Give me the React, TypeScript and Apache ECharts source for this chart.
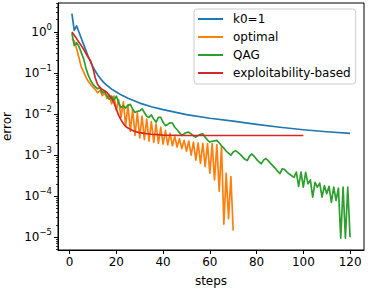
import React, { useEffect, useRef } from "react";
import * as echarts from "echarts";

const FONT = "DejaVu Sans";

const stepTicks = [0, 20, 40, 60, 80, 100, 120];
const decadeTicks = [1e-5, 1e-4, 1e-3, 1e-2, 1e-1, 1];

const k0Steps = [1, 2, 3, 4, 5, 6, 7, 8, 9, 10, 11, 12, 13, 14, 15, 16, 18, 20, 22, 25, 30, 35, 40, 45, 50, 60, 70, 80, 90, 100, 110, 120];
const k0Errors = [2.82, 1.1, 1.41, 1.0, 0.708, 0.501, 0.355, 0.251, 0.186, 0.141, 0.112, 0.0912, 0.0759, 0.0646, 0.0562, 0.0501, 0.0407, 0.0347, 0.0295, 0.0245, 0.0186, 0.0151, 0.0129, 0.0112, 0.00977, 0.00794, 0.00676, 0.00562, 0.00479, 0.00417, 0.00372, 0.00339];

const optimalErrors = [
  0.692, 0.603, 0.398, 0.24, 0.141, 0.107, 0.0794, 0.0631, 0.0525, 0.0457,
  0.0398, 0.0331, 0.038, 0.0282, 0.0331, 0.024, 0.0302, 0.0178, 0.0275, 0.0126,
  0.0224, 0.00832, 0.02, 0.00525, 0.0166, 0.0038, 0.0132, 0.00302, 0.0107, 0.00263,
  0.00891, 0.0024, 0.00759, 0.00219, 0.00661, 0.00204, 0.00575, 0.00195, 0.00479, 0.00186,
  0.00398, 0.00178, 0.00339, 0.0017, 0.00288, 0.00158, 0.00251, 0.00145, 0.00229, 0.00126,
  0.00219, 0.001, 0.00209, 0.000759, 0.002, 0.000631, 0.00195, 0.000525, 0.00191, 0.000363,
  0.00191, 0.000251, 0.00182, 0.000132, 0.00166, 0.0000209, 0.000363, 0.0000282, 0.000302, 0.0000145,
];

const qagErrors = [
  0.933, 0.468, 0.55, 0.447, 0.316, 0.224, 0.132, 0.0891, 0.0661, 0.0537,
  0.0457, 0.0417, 0.0447, 0.0331, 0.0355, 0.0275, 0.0229, 0.0275, 0.0219, 0.0275,
  0.0191, 0.0145, 0.0158, 0.0141, 0.0166, 0.0174, 0.0132, 0.011, 0.0117, 0.012,
  0.0135, 0.011, 0.00891, 0.00832, 0.00955, 0.00759, 0.00631, 0.00832, 0.00832, 0.00631,
  0.00525, 0.00562, 0.00617, 0.00603, 0.00479, 0.00417, 0.00355, 0.00302, 0.00331, 0.00355,
  0.00363, 0.00331, 0.00295, 0.00275, 0.00302, 0.00324, 0.00331, 0.00275, 0.00234, 0.00209,
  0.00219, 0.00224, 0.00229, 0.002, 0.0017, 0.00148, 0.00126, 0.00112, 0.001, 0.0012,
  0.00129, 0.00117, 0.00105, 0.000912, 0.000794, 0.000741, 0.000955, 0.00107, 0.000933, 0.000794,
  0.000692, 0.000617, 0.000759, 0.000832, 0.000724, 0.000631, 0.00055, 0.000479, 0.000407, 0.000355,
  0.000468, 0.000447, 0.000389, 0.000347, 0.000316, 0.000288, 0.000389, 0.000174, 0.000389, 0.000166,
  0.00038, 0.0002, 0.000251, 0.0000955, 0.000219, 0.000166, 0.000209, 0.0000955, 0.000182, 0.000115,
  0.000174, 0.0000708, 0.000166, 0.0000794, 0.000158, 0.00000955, 0.000166, 0.00000955, 0.000166, 0.00001,
];

const exploitSteps = [1, 2, 3, 4, 5, 6, 7, 8, 9, 10, 11, 12, 13, 14, 15, 16, 17, 18, 19, 20, 21, 22, 23, 24, 25, 26, 27, 28, 29, 30, 32, 35, 40, 50, 60, 70, 80, 90, 100];
const exploitErrors = [1.0, 0.832, 0.692, 0.562, 0.468, 0.38, 0.302, 0.24, 0.2, 0.132, 0.0759, 0.0525, 0.0447, 0.0398, 0.0372, 0.0339, 0.0282, 0.024, 0.0191, 0.0132, 0.00933, 0.00724, 0.00589, 0.00501, 0.00457, 0.00427, 0.00398, 0.0038, 0.00363, 0.00355, 0.00339, 0.00324, 0.00309, 0.00302, 0.00302, 0.00302, 0.00302, 0.00302, 0.00302];

const Y_MIN = 4.9e-6;
const Y_MAX = 5.1;

function minorTicks(): number[] {
  const out: number[] = [];
  for (let e = -6; e <= 0; e++) {
    for (let d = 2; d <= 9; d++) {
      const v = d * Math.pow(10, e);
      if (v >= Y_MIN && v <= Y_MAX) out.push(v);
    }
  }
  return out;
}

export default function App() {
  const ref = useRef<HTMLDivElement>(null);
  useEffect(() => {
    if (!ref.current) return;
    const chart = echarts.init(ref.current, undefined, { renderer: "svg" });
    const lw = 1.7;
    chart.setOption({
      animation: false,
      textStyle: { fontFamily: FONT },
      grid: {
        left: 58, right: 4, top: 3, bottom: 44,
        containLabel: false,
        outerBoundsMode: "none",
        show: true, borderColor: "#000", borderWidth: 1, backgroundColor: "transparent",
      },
      legend: {
        orient: "vertical",
        left: 194,
        top: 9,
        padding: [3, 5, 4, 4],
        itemGap: 4,
        itemWidth: 25,
        itemHeight: 2,
        icon: "rect",
        backgroundColor: "rgba(255,255,255,0.8)",
        borderColor: "#cccccc",
        borderWidth: 1,
        borderRadius: 3,
        textStyle: { fontFamily: FONT, fontSize: 12, color: "#000", lineHeight: 14, padding: [0, 0, 0, 5] },
        data: ["k0=1", "optimal", "QAG", "exploitability-based"],
      },
      xAxis: {
        type: "value",
        min: -4.95,
        max: 125.95,
        name: "steps",
        nameLocation: "middle",
        nameGap: 25,
        nameTextStyle: { fontFamily: FONT, fontSize: 12, color: "#000" },
        axisLine: { show: true, onZero: false, lineStyle: { color: "#000", width: 1 } },
        axisTick: { show: true, length: 4, customValues: stepTicks, lineStyle: { color: "#000", width: 1 } },
        axisLabel: { customValues: stepTicks, margin: 6, fontFamily: FONT, fontSize: 12, color: "#000" },
        splitLine: { show: false },
      },
      yAxis: [
        {
          type: "log",
          min: Y_MIN,
          max: Y_MAX,
          name: "error",
          nameLocation: "middle",
          nameGap: 45,
          nameTextStyle: { fontFamily: FONT, fontSize: 12, color: "#000" },
          axisLine: { show: true, onZero: false, lineStyle: { color: "#000", width: 1 } },
          axisTick: { show: true, length: 4, customValues: decadeTicks, lineStyle: { color: "#000", width: 1 } },
          axisLabel: {
            customValues: decadeTicks,
            margin: 6,
            formatter: (v: number) => {
              const e = Math.round(Math.log10(v));
              const s = e < 0 ? "\u2212" + -e : String(e);
              return "{b|10}{s|" + s + "}";
            },
            rich: {
              b: { fontFamily: FONT, fontSize: 12, color: "#000", lineHeight: 20 },
              s: { fontFamily: FONT, fontSize: 8.5, color: "#000", lineHeight: 8, verticalAlign: "top" },
            },
          },
          splitLine: { show: false },
        },
        {
          type: "log",
          min: Y_MIN,
          max: Y_MAX,
          position: "left",
          offset: 0,
          axisLine: { show: false, onZero: false },
          axisTick: { show: true, length: 2, customValues: minorTicks(), lineStyle: { color: "#000", width: 0.8 } },
          axisLabel: { show: false },
          splitLine: { show: false },
        },
      ],
      series: [
        {
          name: "k0=1",
          type: "line",
          showSymbol: false,
          color: "#1f77b4",
          lineStyle: { width: lw, join: "round" },
          data: k0Steps.map((s, i) => [s, k0Errors[i]]),
        },
        {
          name: "optimal",
          type: "line",
          showSymbol: false,
          color: "#ff7f0e",
          lineStyle: { width: lw, join: "round" },
          data: optimalErrors.map((v, i) => [i + 1, v]),
        },
        {
          name: "QAG",
          type: "line",
          showSymbol: false,
          color: "#2ca02c",
          lineStyle: { width: lw, join: "round" },
          data: qagErrors.map((v, i) => [i + 1, v]),
        },
        {
          name: "exploitability-based",
          type: "line",
          showSymbol: false,
          color: "#d62728",
          lineStyle: { width: lw, join: "round" },
          data: exploitSteps.map((s, i) => [s, exploitErrors[i]]),
        },
      ],
    });
    return () => chart.dispose();
  }, []);
  return <div ref={ref} style={{ width: 368, height: 294, position: "absolute", left: 0, top: 0 }} />;
}
